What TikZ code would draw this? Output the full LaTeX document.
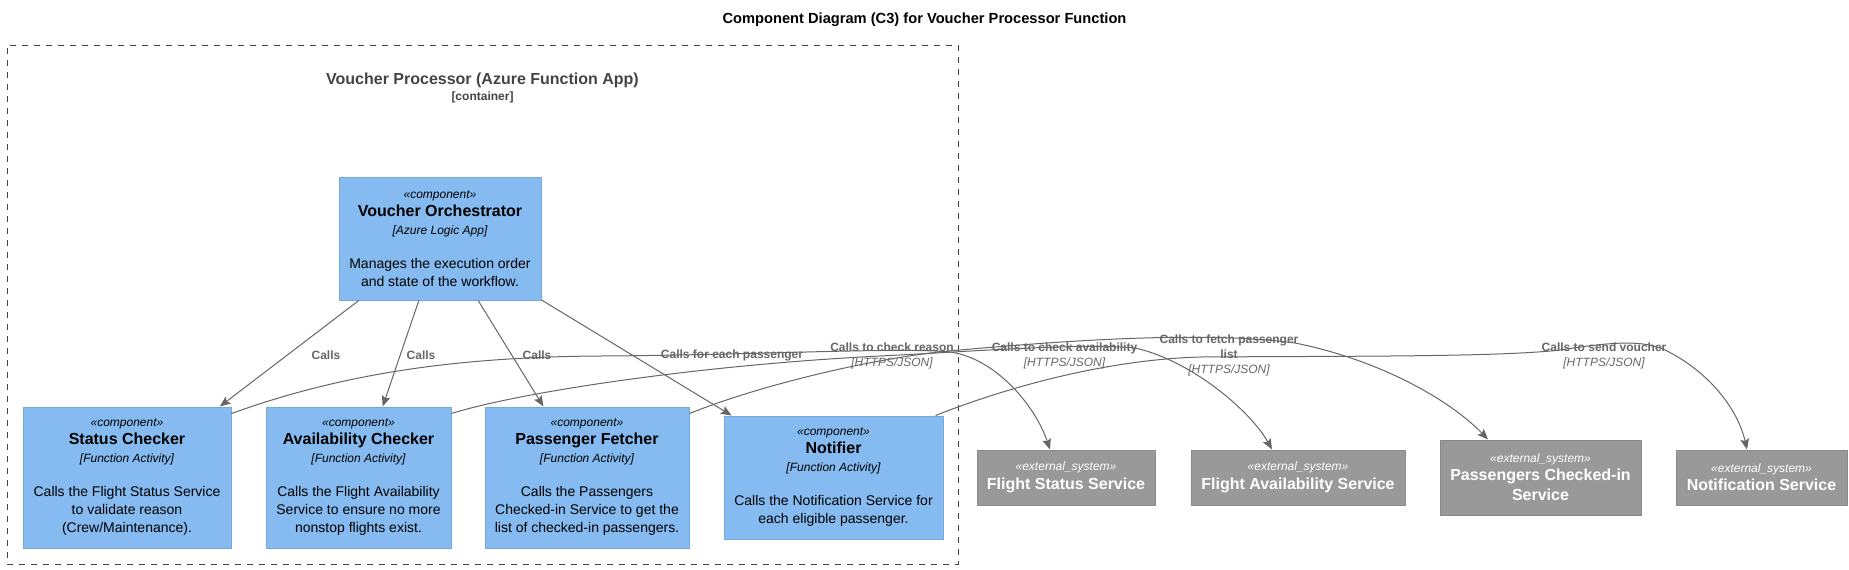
\documentclass[tikz,border=0pt]{standalone}
\usepackage{fontspec}
\setmainfont{Liberation Sans}
\usetikzlibrary{arrows.meta,calc}
\definecolor{compfill}{HTML}{85BBF0}
\definecolor{compline}{HTML}{78A8D8}
\definecolor{extfill}{HTML}{999999}
\definecolor{extline}{HTML}{8A8A8A}
\definecolor{relcol}{HTML}{666666}
\definecolor{bndcol}{HTML}{444444}
\newcommand{\mystereo}[1]{{\fontsize{9}{13.5}\selectfont\mdseries\itshape #1}}
\newcommand{\mycname}[1]{{\fontsize{12}{13.5}\selectfont\bfseries #1}}
\newcommand{\myctech}[1]{{\fontsize{9}{13.5}\selectfont\itshape #1}}
\newcommand{\myhttps}{{\mdseries\itshape [HTTPS/JSON]}}
\begin{document}
\begin{tikzpicture}[x=0.75pt,y=-0.75pt,
  sz/.style 2 args={minimum width=#1*0.75pt, minimum height=#2*0.75pt},
  comp/.style={rectangle, fill=compfill, draw=compline, line width=0.75pt, align=center, inner sep=0pt, font=\fontsize{10.5}{13.5}\selectfont},
  ext/.style={rectangle, fill=extfill, draw=extline, line width=0.75pt, align=center, inner sep=0pt, text=white, font=\fontsize{12}{13.8}\selectfont\bfseries},
  rel/.style={draw=relcol, line width=0.75pt, -{Stealth[length=8pt,width=6.5pt,inset=1.5pt]}},
  rlabel/.style={text=relcol, align=center, inner sep=0pt, font=\fontsize{9}{11.25}\selectfont\bfseries},
  bnd/.style={draw=bndcol, line width=0.75pt, dash pattern=on 4.5pt off 4.5pt, inner sep=0pt},
]
\useasboundingbox (0,0) rectangle (1849,569);

\node[font=\fontsize{11}{12}\selectfont\bfseries, inner sep=0pt] (title) at (924.5,20) {Component Diagram (C3) for Voucher Processor Function};

% container boundary
\node[bnd, sz={951}{519}] (bound) at (482.5,304.5) {};
\node[text=bndcol, font=\fontsize{12}{14}\selectfont\bfseries, inner sep=0pt] (boundlbl) at (482.5,80) {Voucher Processor (Azure Function App)};
\node[text=bndcol, font=\fontsize{9}{10}\selectfont\bfseries, inner sep=0pt] (boundtype) at (482.5,97) {[container]};

% components
\node[comp, sz={202}{123}] (orch) at (440,238.5) {\mystereo{«component»}\\\mycname{Voucher Orchestrator}\\\myctech{[Azure Logic App]}\\[12pt]Manages the execution order\\and state of the workflow.};
\node[comp, sz={208}{141}] (sc) at (127,477.5) {\mystereo{«component»}\\\mycname{Status Checker}\\\myctech{[Function Activity]}\\[12pt]Calls the Flight Status Service\\to validate reason\\(Crew/Maintenance).};
\node[comp, sz={185}{141}] (ac) at (358.5,477.5) {\mystereo{«component»}\\\mycname{Availability Checker}\\\myctech{[Function Activity]}\\[12pt]Calls the Flight Availability\\Service to ensure no more\\nonstop flights exist.};
\node[comp, sz={204}{141}] (pf) at (587,477.5) {\mystereo{«component»}\\\mycname{Passenger Fetcher}\\\myctech{[Function Activity]}\\[12pt]Calls the Passengers\\Checked-in Service to get the\\list of checked-in passengers.};
\node[comp, sz={219}{123}] (nt) at (833.5,477.5) {\mystereo{«component»}\\\mycname{Notifier}\\\myctech{[Function Activity]}\\[12pt]Calls the Notification Service for\\each eligible passenger.};

% external systems
\node[ext, sz={178}{55}] (fss) at (1066,477.5) {\mystereo{«external\_system»}\\Flight Status Service};
\node[ext, sz={214}{55}] (fas) at (1298,477.5) {\mystereo{«external\_system»}\\Flight Availability Service};
\node[ext, sz={201}{75}] (pcs) at (1540.5,477.5) {\mystereo{«external\_system»}\\Passengers Checked-in\\[1.2pt]Service};
\node[ext, sz={171}{55}] (ns) at (1761.5,477.5) {\mystereo{«external\_system»}\\Notification Service};

% orchestrator relations
\draw[rel] (orch) -- (sc);
\draw[rel] (orch) -- (ac);
\draw[rel] (orch) -- (pf);
\draw[rel] (orch) -- (nt);

% external relations
\draw[rel] ($(sc.north east)+(0,7)$) .. controls (330,378) and (440,357) .. (600,356) .. controls (760,355) and (900,347) .. (950,352) .. controls (995,358) and (1035,405) .. ($(fss.north)+(-16,0)$);
\draw[rel] ($(ac.north east)+(0,7)$) .. controls (520,392) and (700,365) .. (880,356) .. controls (980,351) and (1080,343) .. (1135,348) .. controls (1190,360) and (1250,410) .. ($(fas.north)+(-26,0)$);
\draw[rel] ($(pf.north east)+(0,7)$) .. controls (760,385) and (880,356) .. (960,350) .. controls (1050,342) and (1200,330) .. (1295,343) .. controls (1380,360) and (1450,400) .. ($(pcs.north)+(-52.5,0)$);
\draw[rel] ($(nt.north east)+(-8,0)$) .. controls (1000,390) and (1100,360) .. (1200,357) .. controls (1350,356) and (1500,357) .. (1560,350) .. controls (1600,344) and (1640,338) .. (1665,350) .. controls (1710,372) and (1738,410) .. ($(ns.north)+(-14.5,0)$);

% labels
\node[rlabel] (l1) at (326,355) {Calls};
\node[rlabel] (l2) at (421,355) {Calls};
\node[rlabel] (l3) at (537,355) {Calls};
\node[rlabel] (l4) at (732,355) {Calls for each passenger};
\node[rlabel] (l5) at (892,355.5) {Calls to check reason\\\myhttps};
\node[rlabel] (l6) at (1064.5,355.5) {Calls to check availability\\\myhttps};
\node[rlabel] (l7) at (1229,355) {Calls to fetch passenger\\list\\\myhttps};
\node[rlabel] (l8) at (1604,355.5) {Calls to send voucher\\\myhttps};
\end{tikzpicture}
\end{document}
